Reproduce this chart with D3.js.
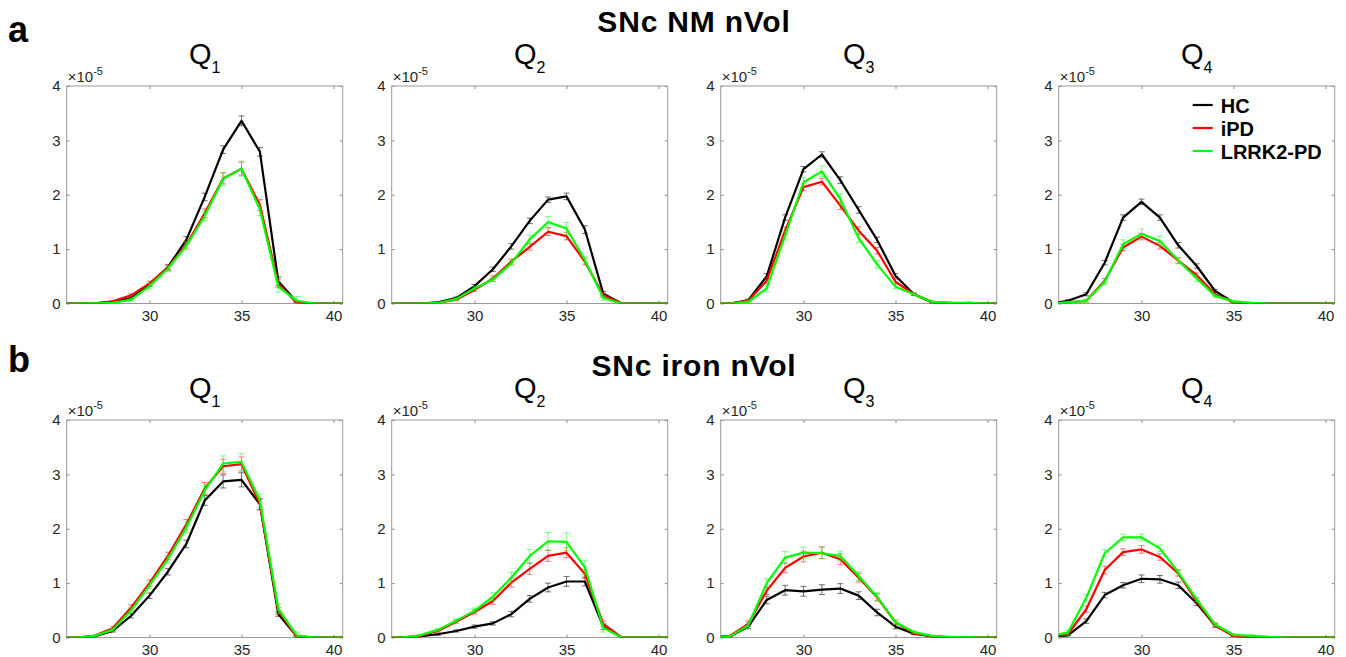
<!DOCTYPE html>
<html>
<head>
<meta charset="utf-8">
<script src="https://d3js.org/d3.v7.min.js"></script>
<style>
  body { margin: 0; background: #fff; }
  svg { display: block; font-family: "Liberation Sans", Arial, Helvetica, sans-serif; }
</style>
</head>
<body>
<svg width="1346" height="657"></svg>
<script>
// bin centres (values are in units of 1e-5)
var xs = [25,26,27,28,29,30,31,32,33,34,35,36,37,38,39,40,41];
var groups = ["HC", "iPD", "LRRK2-PD"];
var colours = ["#000000", "#ff0000", "#00ff00"];
var rowTitles = ["SNc NM nVol", "SNc iron nVol"];
var rowLetters = ["a", "b"];
var quartiles = ["1", "2", "3", "4"];
var xTicks = [30, 35, 40];
var yTicks = [0, 1, 2, 3, 4];

// SNc NM nVol, one array per quartile
var nmHC = [
  [0,0,0.005,0.03,0.1,0.34,0.67,1.17,1.96,2.83,3.36,2.79,0.41,0.03,0,0,0],
  [0,0,0,0.02,0.1,0.32,0.63,1.05,1.52,1.91,1.97,1.36,0.18,0,0,0,0],
  [0,0,0.06,0.5,1.58,2.47,2.74,2.27,1.72,1.17,0.51,0.17,0.02,0,0,0,0],
  [0,0.05,0.17,0.75,1.58,1.87,1.58,1.07,0.69,0.23,0.02,0,0,0,0,0,0]
];
var nmIPD = [
  [0,0,0.005,0.04,0.15,0.37,0.66,1.08,1.66,2.3,2.48,1.81,0.37,0.01,0,0,0],
  [0,0,0,0.01,0.07,0.25,0.46,0.77,1.04,1.32,1.24,0.77,0.15,0,0,0,0],
  [0,0,0.05,0.42,1.34,2.14,2.24,1.8,1.34,0.97,0.4,0.17,0.03,0.01,0.005,0,0],
  [0,0.02,0.05,0.42,1.03,1.23,1.06,0.79,0.52,0.17,0.02,0,0,0,0,0,0]
];
var nmLRRK2 = [
  [0,0,0.003,0.01,0.07,0.32,0.64,1.06,1.61,2.29,2.48,1.73,0.31,0.05,0,0,0],
  [0,0,0,0.01,0.08,0.28,0.44,0.74,1.18,1.5,1.38,0.8,0.1,0,0,0,0],
  [0,0,0.03,0.28,1.25,2.23,2.43,1.92,1.2,0.72,0.31,0.17,0.03,0.01,0.01,0,0],
  [0,0.02,0.05,0.4,1.09,1.28,1.15,0.79,0.46,0.14,0.04,0.01,0,0,0,0,0]
];
var nmHCErr = [
  [0,0,0,0.01,0.02,0.03,0.04,0.06,0.07,0.07,0.09,0.08,0.08,0.01,0,0,0],
  [0,0,0,0.01,0.02,0.03,0.04,0.05,0.05,0.05,0.06,0.07,0.04,0,0,0,0],
  [0,0,0.02,0.05,0.05,0.05,0.05,0.06,0.06,0.05,0.04,0.02,0.01,0,0,0,0],
  [0,0.02,0.03,0.04,0.05,0.05,0.05,0.05,0.04,0.03,0.01,0,0,0,0,0,0]
];
var nmIPDErr = [
  [0,0,0,0.01,0.03,0.04,0.05,0.06,0.08,0.1,0.12,0.1,0.08,0.02,0,0,0],
  [0,0,0,0.01,0.02,0.03,0.05,0.05,0.06,0.07,0.07,0.06,0.04,0,0,0,0],
  [0,0,0.02,0.05,0.07,0.06,0.06,0.07,0.07,0.06,0.04,0.02,0.01,0,0,0,0],
  [0,0.01,0.02,0.04,0.06,0.06,0.06,0.05,0.04,0.03,0.01,0,0,0,0,0,0]
];
var nmLRRK2Err = [
  [0,0,0,0.01,0.03,0.05,0.05,0.07,0.09,0.12,0.14,0.11,0.1,0.08,0,0,0],
  [0,0,0,0.01,0.02,0.03,0.04,0.05,0.08,0.1,0.11,0.06,0.04,0,0,0,0],
  [0,0,0.02,0.06,0.08,0.09,0.1,0.1,0.08,0.07,0.04,0.02,0.02,0.01,0.03,0,0],
  [0,0.01,0.03,0.05,0.08,0.09,0.09,0.06,0.05,0.03,0.02,0.01,0,0,0,0,0]
];

// SNc iron nVol
var ironHC = [
  [0,0,0.02,0.12,0.4,0.77,1.21,1.72,2.52,2.87,2.9,2.45,0.43,0.02,0,0,0],
  [0,0,0.02,0.06,0.12,0.2,0.26,0.43,0.71,0.92,1.03,1.03,0.2,0,0,0,0],
  [0,0.02,0.2,0.69,0.87,0.85,0.88,0.9,0.77,0.46,0.2,0.07,0.02,0,0,0,0],
  [0.01,0.04,0.3,0.78,0.96,1.08,1.07,0.96,0.63,0.22,0.03,0,0,0,0,0,0]
];
var ironIPD = [
  [0,0,0.03,0.17,0.55,1.0,1.5,2.08,2.74,3.15,3.19,2.45,0.49,0.02,0,0,0],
  [0,0,0.03,0.12,0.29,0.47,0.67,1.01,1.26,1.5,1.56,1.17,0.25,0,0,0,0],
  [0.01,0.03,0.25,0.86,1.28,1.49,1.56,1.44,1.1,0.74,0.28,0.08,0.02,0,0,0,0],
  [0.01,0.06,0.52,1.24,1.57,1.62,1.48,1.18,0.67,0.22,0.03,0.01,0,0,0,0,0]
];
var ironLRRK2 = [
  [0,0,0.03,0.14,0.5,0.96,1.44,2.02,2.7,3.2,3.23,2.52,0.53,0.04,0,0,0],
  [0,0,0.04,0.14,0.31,0.49,0.75,1.1,1.5,1.77,1.76,1.29,0.18,0,0,0,0],
  [0,0.02,0.22,1.0,1.47,1.56,1.55,1.5,1.13,0.75,0.28,0.1,0.03,0.01,0.005,0,0],
  [0.03,0.09,0.73,1.55,1.84,1.84,1.64,1.2,0.7,0.24,0.05,0.03,0.01,0,0,0,0]
];
var ironHCErr = [
  [0,0,0.01,0.02,0.04,0.05,0.06,0.07,0.09,0.12,0.13,0.1,0.04,0.01,0,0,0],
  [0,0,0.01,0.02,0.02,0.03,0.03,0.05,0.06,0.08,0.09,0.08,0.05,0,0,0,0],
  [0,0.01,0.04,0.07,0.09,0.09,0.09,0.09,0.07,0.06,0.04,0.02,0.01,0,0,0,0],
  [0,0.01,0.04,0.05,0.05,0.07,0.07,0.06,0.04,0.03,0.01,0,0,0,0,0,0]
];
var ironIPDErr = [
  [0,0,0.01,0.03,0.05,0.06,0.07,0.09,0.11,0.13,0.13,0.1,0.06,0.01,0,0,0],
  [0,0,0.01,0.02,0.03,0.04,0.06,0.08,0.1,0.1,0.09,0.08,0.05,0,0,0,0],
  [0,0.01,0.05,0.07,0.09,0.1,0.11,0.1,0.08,0.07,0.04,0.02,0.01,0,0,0,0],
  [0,0.02,0.06,0.07,0.06,0.07,0.06,0.05,0.04,0.03,0.01,0,0,0,0,0,0]
];
var ironLRRK2Err = [
  [0,0,0.01,0.03,0.05,0.06,0.07,0.1,0.12,0.14,0.15,0.12,0.09,0.06,0,0,0],
  [0,0,0.01,0.02,0.03,0.05,0.07,0.1,0.12,0.16,0.16,0.13,0.08,0,0,0,0],
  [0,0.01,0.05,0.08,0.11,0.1,0.1,0.09,0.08,0.07,0.04,0.02,0.01,0.01,0.01,0,0],
  [0.01,0.04,0.06,0.07,0.06,0.06,0.06,0.05,0.04,0.03,0.02,0.02,0,0,0,0,0]
];

var rows = [
  {values: [nmHC, nmIPD, nmLRRK2], errs: [nmHCErr, nmIPDErr, nmLRRK2Err]},
  {values: [ironHC, ironIPD, ironLRRK2], errs: [ironHCErr, ironIPDErr, ironLRRK2Err]}
];

var svg = d3.select("svg");
var panelLefts = [66.7, 391.7, 720.7, 1058.7],
    panelW = 276,
    panelH = 217.5,
    rowTops = [86, 420],
    titleYs = [32, 376],
    letterYs = [41.5, 371.5];

rows.forEach(function(row, r){
  svg.append("text")
      .attr("x", 8).attr("y", letterYs[r])
      .attr("font-size", 36).attr("font-weight", "bold")
      .text(rowLetters[r]);
  svg.append("text")
      .attr("x", 694).attr("y", titleYs[r])
      .attr("text-anchor", "middle")
      .attr("font-size", 30).attr("font-weight", "bold")
      .attr("letter-spacing", 0.8)
      .text(rowTitles[r]);

  quartiles.forEach(function(q, p){
    var g = svg.append("g")
        .attr("transform", "translate(" + panelLefts[p] + "," + rowTops[r] + ")");
    var x = d3.scaleLinear().domain([25.5, 40.5]).range([0, panelW]);
    var y = d3.scaleLinear().domain([0, 4]).range([panelH, 0]);

    var clipId = "clip" + r + p;
    g.append("clipPath").attr("id", clipId)
      .append("rect").attr("width", panelW).attr("height", panelH + 1).attr("y", -1);

    // title Q with subscript
    var t = g.append("text")
        .attr("x", panelW / 2).attr("y", -22)
        .attr("text-anchor", "middle")
        .attr("fill", "#000");
    t.append("tspan").attr("font-size", 29).text("Q");
    t.append("tspan").attr("font-size", 16).attr("dy", 9).text(q);

    // exponent label
    var e = g.append("text")
        .attr("x", 1).attr("y", -4)
        .attr("fill", "#262626").attr("font-size", 15);
    e.append("tspan").text("\u00d710");
    e.append("tspan").attr("font-size", 11).attr("dy", -7).text("-5");

    // axes, ticks pointing inward on all four sides
    var ax = g.append("g").attr("class", "axes");
    ax.append("g").attr("transform", "translate(0," + panelH + ")")
      .call(d3.axisBottom(x).tickValues(xTicks).tickSize(-3).tickPadding(7));
    ax.append("g")
      .call(d3.axisTop(x).tickValues(xTicks).tickSize(-3).tickFormat(""));
    ax.append("g")
      .call(d3.axisLeft(y).tickValues(yTicks).tickSize(-3).tickPadding(6).tickFormat(d3.format("d")));
    ax.append("g").attr("transform", "translate(" + panelW + ",0)")
      .call(d3.axisRight(y).tickValues(yTicks).tickSize(-3).tickFormat(""));
    ax.selectAll(".domain").remove();
    ax.selectAll(".tick line").attr("stroke", "#8c8c8c");
    ax.selectAll(".tick text")
      .attr("fill", "#262626")
      .attr("font-size", 15)
      .attr("font-family", "'Liberation Sans', Arial, sans-serif");

    g.append("rect")
      .attr("width", panelW).attr("height", panelH)
      .attr("fill", "none").attr("stroke", "#9a9a9a").attr("stroke-width", 1);

    var plot = g.append("g").attr("clip-path", "url(#" + clipId + ")");
    var line = d3.line()
        .x(function(d){ return x(d.x); })
        .y(function(d){ return y(d.v); });

    groups.forEach(function(name, s){
      var pts = xs.map(function(xv, i){
        return {x: xv, v: row.values[s][p][i], e: row.errs[s][p][i]};
      });
      var eb = plot.append("g")
          .attr("stroke", colours[s])
          .attr("stroke-opacity", s === 0 ? 0.55 : 0.5)
          .attr("stroke-width", 1)
          .attr("fill", "none");
      eb.selectAll("path")
        .data(pts.filter(function(d){ return d.e > 0; }))
        .enter().append("path")
          .attr("d", function(d){
            var cx = x(d.x), y0 = y(d.v - d.e), y1 = y(d.v + d.e);
            return "M" + cx + "," + y0 + "V" + y1 +
                   "M" + (cx - 3) + "," + y0 + "H" + (cx + 3) +
                   "M" + (cx - 3) + "," + y1 + "H" + (cx + 3);
          });
      plot.append("path")
        .datum(pts)
        .attr("fill", "none")
        .attr("stroke", colours[s])
        .attr("stroke-width", 2.2)
        .attr("stroke-linejoin", "round")
        .attr("d", line);
    });

    // legend only in the last NM panel
    if (r === 0 && p === 3) {
      var lg = g.append("g").attr("transform", "translate(134,19)");
      groups.forEach(function(name, s){
        var row_ = lg.append("g").attr("transform", "translate(0," + (s * 23) + ")");
        row_.append("line")
          .attr("x1", 0).attr("x2", 20).attr("y1", 0).attr("y2", 0)
          .attr("stroke", colours[s]).attr("stroke-width", 2.2);
        row_.append("text")
          .attr("x", 28).attr("y", 7.5)
          .attr("font-size", 20).attr("font-weight", "bold")
          .text(name);
      });
    }
  });
});
</script>
</body>
</html>
